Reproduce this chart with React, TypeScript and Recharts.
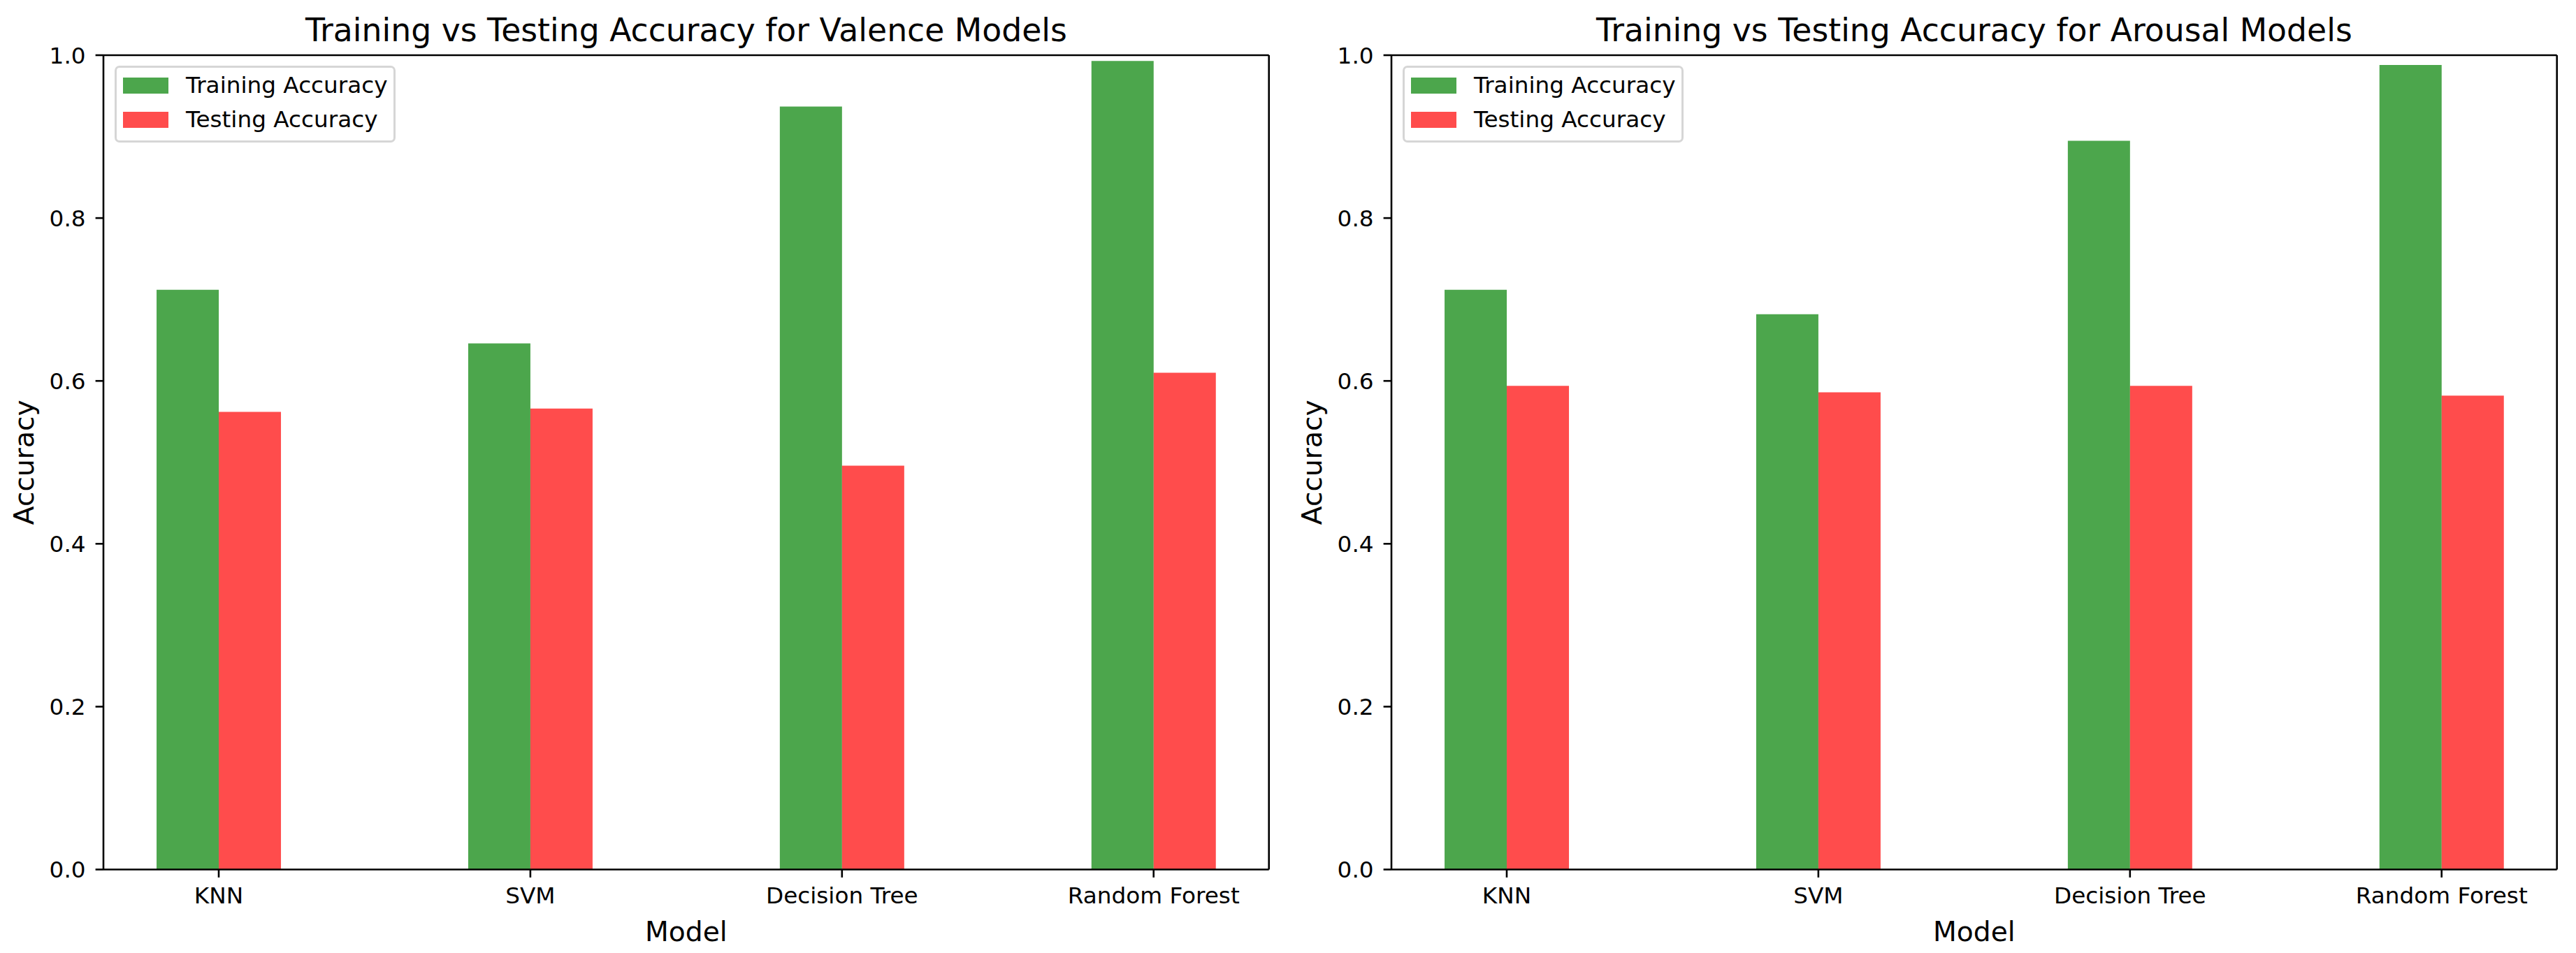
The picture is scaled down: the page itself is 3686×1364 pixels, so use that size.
import React from 'react';
import { BarChart, Bar, XAxis, YAxis, Legend, Label } from 'recharts';

const models = ['KNN', 'SVM', 'Decision Tree', 'Random Forest'];
const valenceTrain = [0.712, 0.646, 0.937, 0.993];
const valenceTest = [0.562, 0.566, 0.496, 0.610];
const arousalTrain = [0.712, 0.682, 0.895, 0.988];
const arousalTest = [0.594, 0.586, 0.594, 0.582];
const yTicks = [0, 0.2, 0.4, 0.6, 0.8, 1.0];
const xTicks = [0, 1, 2, 3];
const seriesNames = ['Training Accuracy', 'Testing Accuracy'];
const seriesColors = ['green', 'red'];

const FONT = '"DejaVu Sans", sans-serif';
const W = 1843;
const H = 1364;
const PLOT_LEFT = 148;
const PLOT_RIGHT = 1815.7;
const PLOT_TOP = 79;
const PLOT_BOTTOM = 1244.5;
const TICK_FS = 32.7;
const LABEL_FS = 39.2;
const TITLE_FS = 45.7;
const SW = 2.6;

const renderLegend = () => (
  <div
    style={{
      position: 'relative',
      width: 402,
      height: 110,
      boxSizing: 'border-box',
      border: '3px solid #d6d6d6',
      borderRadius: 7,
      background: 'rgba(255,255,255,0.8)',
      fontFamily: FONT,
    }}
  >
    {seriesNames.map((name, i) => (
      <React.Fragment key={name}>
        <div
          style={{
            position: 'absolute',
            left: 9,
            top: 13.7 + i * 49,
            width: 65,
            height: 23.4,
            background: seriesColors[i],
            opacity: 0.7,
          }}
        />
        <div
          style={{
            position: 'absolute',
            left: 99,
            top: 25.3 + i * 49 - TICK_FS / 2,
            height: TICK_FS,
            lineHeight: `${TICK_FS}px`,
            fontSize: TICK_FS,
            color: '#000',
            whiteSpace: 'nowrap',
          }}
        >
          {name}
        </div>
      </React.Fragment>
    ))}
  </div>
);

function Panel({ title, train, test, left }: { title: string; train: number[]; test: number[]; left: number }) {
  const data = models.map((m, i) => ({ idx: i, model: m, train: train[i], test: test[i] }));
  const yLabel = (props: any) => {
    const vb = props.viewBox || { x: 0, y: PLOT_TOP, width: PLOT_LEFT, height: PLOT_BOTTOM - PLOT_TOP };
    const cx = 47.5;
    const cy = vb.y + vb.height / 2;
    return (
      <text
        x={cx}
        y={cy}
        transform={`rotate(-90 ${cx} ${cy})`}
        textAnchor="middle"
        fontSize={LABEL_FS}
        fontFamily={FONT}
        fill="#000"
      >
        Accuracy
      </text>
    );
  };
  return (
    <div style={{ position: 'absolute', left, top: 0, width: W, height: H }}>
      <BarChart
        width={W}
        height={H}
        data={data}
        margin={{ top: PLOT_TOP - 1, right: W - PLOT_RIGHT - 1, bottom: 0, left: 0 }}
        barGap={0}
        barSize={89}
        style={{ fontFamily: FONT }}
      >
        <XAxis
          xAxisId="b"
          type="number"
          dataKey="idx"
          domain={[-0.37, 3.37]}
          allowDataOverflow
          ticks={xTicks}
          interval={0}
          tickFormatter={(v: number) => models[v]}
          height={H - PLOT_BOTTOM}
          tickSize={11.4}
          tickMargin={14}
          tick={{ fill: '#000', fontSize: TICK_FS, fontFamily: FONT }}
          axisLine={{ stroke: '#000', strokeWidth: SW }}
          tickLine={{ stroke: '#000', strokeWidth: SW }}
        >
          <Label value="Model" position="insideBottom" offset={17} fontSize={LABEL_FS} fontFamily={FONT} fill="#000" />
        </XAxis>
        <XAxis
          xAxisId="t"
          orientation="top"
          type="number"
          dataKey="idx"
          domain={[-0.37, 3.37]}
          allowDataOverflow
          height={1}
          tick={false}
          tickLine={false}
          axisLine={{ stroke: '#000', strokeWidth: SW }}
        >
          <Label value={title} position="top" offset={19} fontSize={TITLE_FS} fontFamily={FONT} fill="#000" />
        </XAxis>
        <YAxis
          yAxisId="l"
          type="number"
          domain={[0, 1]}
          ticks={yTicks}
          interval={0}
          tickFormatter={(v: number) => v.toFixed(1)}
          width={PLOT_LEFT}
          tickSize={11.4}
          tickMargin={14}
          tick={{ fill: '#000', fontSize: TICK_FS, fontFamily: FONT }}
          axisLine={{ stroke: '#000', strokeWidth: SW }}
          tickLine={{ stroke: '#000', strokeWidth: SW }}
          label={{ content: yLabel }}
        />
        <YAxis
          yAxisId="r"
          orientation="right"
          type="number"
          domain={[0, 1]}
          width={1}
          tick={false}
          tickLine={false}
          axisLine={{ stroke: '#000', strokeWidth: SW }}
        />
        <Legend
          layout="vertical"
          align="center"
          verticalAlign="middle"
          wrapperStyle={{ left: 164, top: 94, width: 'auto', height: 'auto' }}
          content={renderLegend}
        />
        <Bar
          xAxisId="b"
          yAxisId="l"
          dataKey="train"
          name={seriesNames[0]}
          fill={seriesColors[0]}
          fillOpacity={0.7}
          isAnimationActive={false}
        />
        <Bar
          xAxisId="b"
          yAxisId="l"
          dataKey="test"
          name={seriesNames[1]}
          fill={seriesColors[1]}
          fillOpacity={0.7}
          isAnimationActive={false}
        />
      </BarChart>
    </div>
  );
}

export default function App() {
  return (
    <div style={{ position: 'absolute', left: 0, top: 0, width: 3686, height: H, background: '#fff', overflow: 'hidden' }}>
      <Panel title="Training vs Testing Accuracy for Valence Models" train={valenceTrain} test={valenceTest} left={0} />
      <Panel title="Training vs Testing Accuracy for Arousal Models" train={arousalTrain} test={arousalTest} left={W} />
    </div>
  );
}
